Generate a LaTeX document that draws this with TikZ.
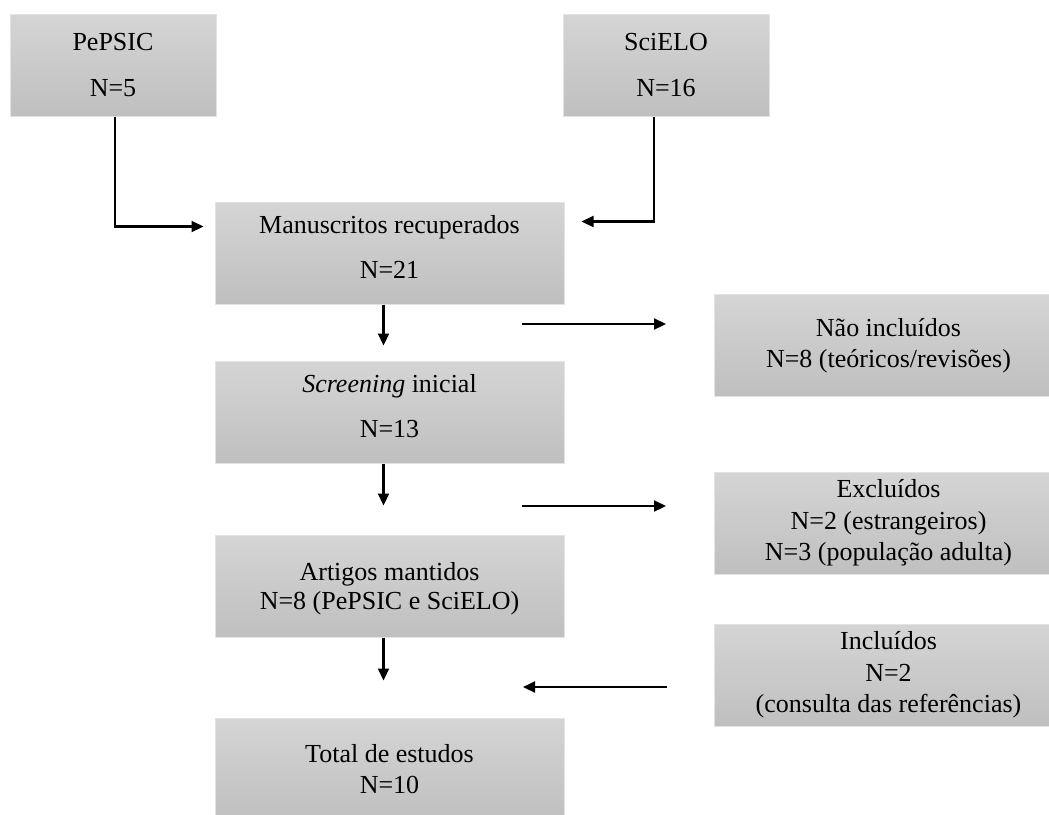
\documentclass[tikz,border=0pt]{standalone}
\usepackage{fontspec}
\setmainfont{Liberation Serif}
\usepackage{tikz}
\usetikzlibrary{arrows.meta}

\tikzset{
  caixa/.style={rectangle, top color=gray!33, bottom color=gray!50, draw=gray!22,
    line width=0.5pt, minimum width=174.5pt, minimum height=51pt, inner sep=0pt,
    align=center, font=\fontsize{13}{15.75}\selectfont},
  fonte/.style={caixa, minimum width=103pt},
  seta/.style={->, line width=1.1pt}
}

\begin{document}
\begin{tikzpicture}[>={Triangle[length=6pt,width=5.5pt]}, x=0.5pt, y=-0.5pt]
  \useasboundingbox (0,0) rectangle (1049,814);

  % Bases de dados
  \node[fonte] (pepsic) at (113,65) {PePSIC\\[7pt]N=5};
  \node[fonte] (scielo) at (666,65) {SciELO\\[7pt]N=16};

  % Coluna principal
  \node[caixa, text depth=6pt] (manus) at (389.5,253) {Manuscritos recuperados\\[7pt]N=21};
  \node[caixa, text depth=6pt] (screen) at (389.5,412) {\textit{Screening} inicial\\[7pt]N=13};
  \node[caixa, text depth=-2pt] (artigos) at (389.5,586) {Artigos mantidos\\[-1pt]N=8 (PePSIC e SciELO)};
  \node[caixa] (total) at (389.5,769) {Total de estudos\\N=10};

  % Coluna lateral
  \node[caixa] (naoinc) at (888.5,345.5) {Não incluídos\\N=8 (teóricos/revisões)};
  \node[caixa] (excl) at (888.5,523) {Excluídos\\N=2 (estrangeiros)\\N=3 (população adulta)};
  \node[caixa] (incl) at (888.5,675) {Incluídos\\N=2\\(consulta das referências)};

  % Setas das bases
  \draw[seta] ([xshift=1pt]pepsic.south) |- ([xshift=-5.5pt,yshift=-12.5pt]manus.north west);
  \draw[seta] ([xshift=-6pt]scielo.south) |- ([xshift=8.5pt,yshift=-10pt]manus.north east);

  % Setas verticais
  \draw[seta] ([xshift=-3pt]manus.south) -- ([xshift=-3pt,yshift=7.5pt]screen.north);
  \draw[seta] ([xshift=-3pt]screen.south) -- ([xshift=-3pt,yshift=14.5pt]artigos.north);
  \draw[seta] ([xshift=-3pt]artigos.south) -- ([xshift=-3pt,yshift=18.5pt]total.north);

  % Setas laterais
  \coordinate (s1a) at (522,324);
  \coordinate (s1b) at (666,324);
  \coordinate (s2a) at (522,506);
  \coordinate (s2b) at (666,506);
  \coordinate (s3a) at (667,687);
  \coordinate (s3b) at (523,687);
  \draw[seta] (s1a) -- (s1b);
  \draw[seta] (s2a) -- (s2b);
  \draw[seta] (s3a) -- (s3b);
\end{tikzpicture}
\end{document}
